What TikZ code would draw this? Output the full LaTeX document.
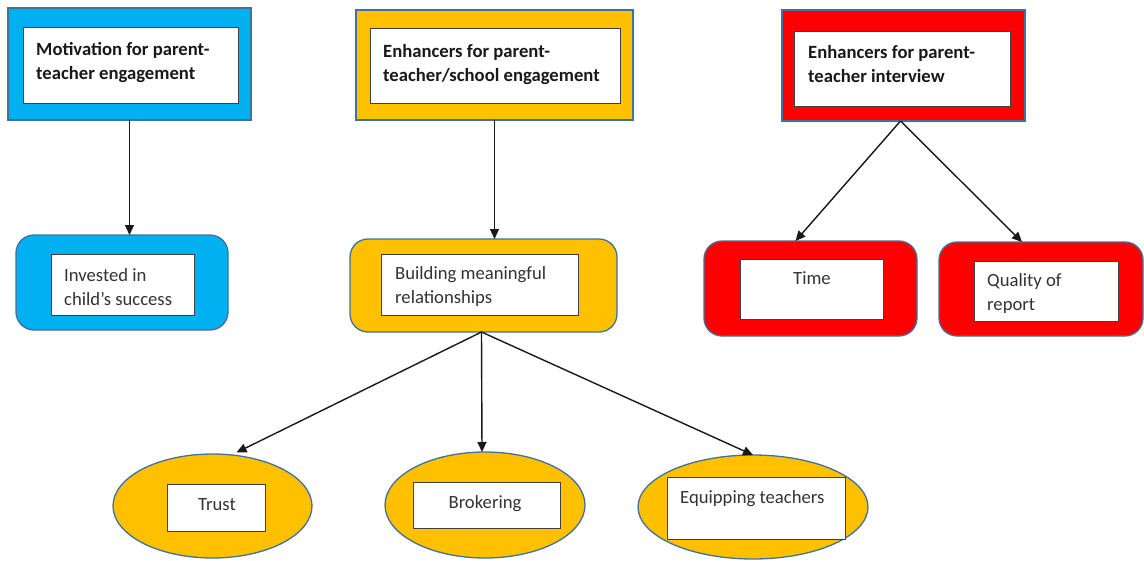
\documentclass[tikz,border=0pt]{standalone}
\usepackage{fontspec}
\setmainfont{Carlito}
\usetikzlibrary{shapes.geometric,arrows.meta,calc}
\definecolor{cblue}{HTML}{00B0F0}
\definecolor{cgold}{HTML}{FFC000}
\definecolor{cred}{HTML}{FF0000}
\definecolor{cedge}{HTML}{41719C}
\definecolor{ctext}{HTML}{333333}
\newcommand\twoln[2]{\vtop{\hbox{#1}\hbox{#2}}}
\begin{document}
\begin{tikzpicture}[x=1pt,y=-1pt,
  outerbox/.style={draw=cedge, line width=1.3pt, inner sep=0pt, outer sep=0pt, rectangle},
  roundbox/.style={outerbox, rounded corners=18pt},
  ovalbox/.style={draw=cedge, line width=1.3pt, inner sep=0pt, outer sep=0pt, ellipse},
  innerbox/.style={draw=black!75, fill=white, line width=0.9pt, inner sep=0pt, outer sep=0pt, rectangle},
  headtext/.style={inner sep=0pt, anchor=base west, font=\fontsize{18.67}{24}\selectfont\bfseries, text=black!90},
  bodytext/.style={inner sep=0pt, anchor=base west, font=\fontsize{18.67}{24}\selectfont, text=ctext},
  conn/.style={draw=black!90, line width=1.4pt, -{Triangle[length=10pt,width=9pt]}}
]
\useasboundingbox (0,0) rectangle (1144,560);

% top boxes
\node[outerbox, fill=cblue, minimum width=243, minimum height=112] (o1) at (129.5,64) {};
\node[innerbox, minimum width=215, minimum height=76] (i1) at (130.5,65) {};
\node[headtext] (t1) at (36,55) {\twoln{Motivation for parent-}{teacher engagement}};

\node[outerbox, fill=cgold, minimum width=277, minimum height=110] (o2) at (494.5,65) {};
\node[innerbox, minimum width=250, minimum height=75] (i2) at (495,65.5) {};
\node[headtext] (t2) at (383,57) {\twoln{Enhancers for parent-}{teacher/school engagement}};

\node[outerbox, fill=cred, minimum width=243, minimum height=111] (o3) at (903.5,65.5) {};
\node[innerbox, minimum width=216, minimum height=75] (i3) at (902,68.5) {};
\node[headtext] (t3) at (808,58) {\twoln{Enhancers for parent-}{teacher interview}};

% second row
\node[roundbox, fill=cblue, minimum width=212, minimum height=95] (o4) at (122,282.5) {};
\node[innerbox, minimum width=143, minimum height=61] (i4) at (122.5,284.5) {};
\node[bodytext] (t4) at (64,281) {\twoln{Invested in}{child’s success}};

\node[roundbox, fill=cgold, minimum width=267, minimum height=93] (o5) at (483.5,285.5) {};
\node[innerbox, minimum width=197, minimum height=61] (i5) at (479.5,284.5) {};
\node[bodytext] (t5) at (395,279) {\twoln{Building meaningful}{relationships}};

\node[roundbox, fill=cred, minimum width=213, minimum height=95] (o6) at (810.5,288.5) {};
\node[innerbox, minimum width=143, minimum height=60] (i6) at (811.5,289) {};
\node[bodytext, anchor=base] (t6) at (812,284) {Time};

\node[roundbox, fill=cred, minimum width=204, minimum height=94] (o7) at (1041,289) {};
\node[innerbox, minimum width=144, minimum height=60] (i7) at (1046,291) {};
\node[bodytext] (t7) at (987,286) {\twoln{Quality of}{report}};

% bottom ellipses
\node[ovalbox, fill=cgold, minimum width=199, minimum height=104] (o8) at (212.5,506) {};
\node[innerbox, minimum width=98, minimum height=47] (i8) at (216,507.5) {};
\node[bodytext, anchor=base] (t8) at (217,510) {Trust};

\node[ovalbox, fill=cgold, minimum width=200, minimum height=106] (o9) at (485,505) {};
\node[innerbox, minimum width=147, minimum height=46] (i9) at (486.5,505) {};
\node[bodytext, anchor=base] (t9) at (485,508) {Brokering};

\node[ovalbox, fill=cgold, minimum width=230, minimum height=104] (o10) at (753,507) {};
\node[innerbox, minimum width=178, minimum height=62] (i10) at (756,508) {};
\node[bodytext] (t10) at (680,503) {Equipping teachers};

% connectors
\draw[conn] (o1.south) -- (o1.south |- o4.north);
\draw[conn] (o2.south) -- (o2.south |- o5.north);
\draw[conn] ([xshift=-3]o3.south) -- ([xshift=-15]o6.north);
\draw[conn] ([xshift=-3]o3.south) -- ([xshift=-19]o7.north);
\draw[conn] ([xshift=-2]o5.south) -- ([xshift=24,yshift=1.5]o8.north);
\draw[conn] ([xshift=-2]o5.south) -- ([xshift=-3]o9.north);
\draw[conn] ([xshift=-2]o5.south) -- (o10.north);
\end{tikzpicture}
\end{document}
